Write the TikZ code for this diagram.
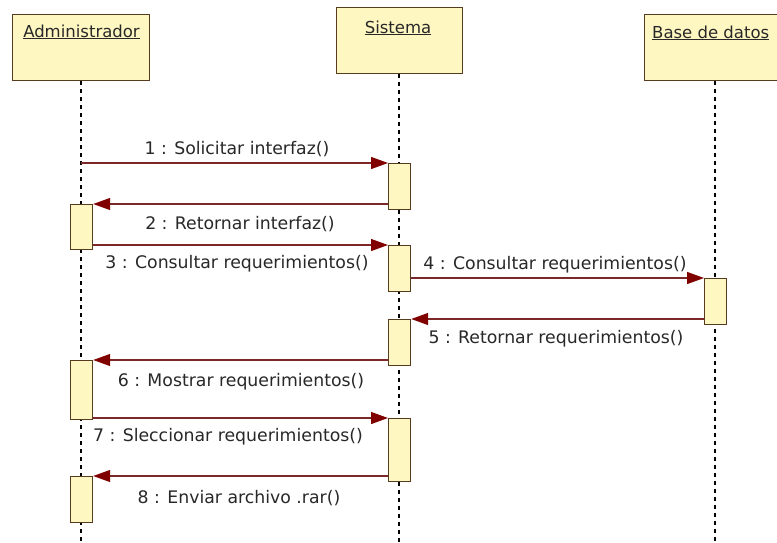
\documentclass[tikz,border=0pt]{standalone}
\usepackage{fontspec}
\setmainfont{DejaVu Sans}
\usetikzlibrary{arrows.meta}
\definecolor{boxfill}{RGB}{255,247,194}
\definecolor{boxline}{RGB}{88,58,30}
\definecolor{msgline}{RGB}{125,40,40}
\definecolor{msgtip}{RGB}{128,0,0}
\definecolor{txt}{RGB}{40,40,40}
\begin{document}
\begin{tikzpicture}[x=1pt,y=-1pt,
  header/.style={draw=boxline,fill=boxfill,line width=1.3pt,anchor=north west,inner sep=0pt},
  act/.style={draw=boxline,fill=boxfill,line width=1.2pt,anchor=north west,inner sep=0pt,minimum width=22pt},
  lifeline/.style={black,line width=1.3pt,dash pattern=on 4pt off 4pt},
  msg/.style={draw=msgline,line width=1.2pt,-{Triangle[length=17pt,width=12pt,fill=msgtip,color=msgtip]}},
  lbl/.style={anchor=base,text=txt,font=\fontsize{17.3}{20}\selectfont,inner sep=0pt},
  htxt/.style={anchor=base,text=txt,font=\fontsize{16.5}{19}\selectfont,inner sep=0pt}]
\useasboundingbox (0,0) rectangle (777,542);
\fill[white] (0,0) rectangle (777,542);
\clip (0,0) rectangle (777,542);
% header boxes
\node[header,minimum width=137pt,minimum height=66pt] (hA) at (12,14) {};
\node[header,minimum width=126pt,minimum height=66pt] (hS) at (336,7) {};
\node[header,minimum width=150pt,minimum height=66pt] (hD) at (644,14) {};
\node[htxt] (tA) at (81.5,37) {\underline{Administrador}};
\node[htxt] (tS) at (398,33) {\underline{Sistema}};
\node[htxt,anchor=base west] (tD) at (652,38) {\underline{Base de datos}};
% lifelines
\coordinate (eA) at (81,545);
\coordinate (eS) at (399,545);
\coordinate (eD) at (715,545);
\draw[lifeline] (hA.south -| eA) -- (eA);
\draw[lifeline] (hS.south -| eS) -- (eS);
\draw[lifeline] (hD.south -| eD) -- (eD);
% activations
\node[act,minimum height=46pt] (s1) at (388,163) {};
\node[act,minimum height=45pt] (a1) at (70,204) {};
\node[act,minimum height=46pt] (s2) at (388,245) {};
\node[act,minimum height=46pt] (d1) at (704,278) {};
\node[act,minimum height=46pt] (s3) at (388,319) {};
\node[act,minimum height=59pt] (a2) at (70,360) {};
\node[act,minimum height=63pt] (s4) at (388,418) {};
\node[act,minimum height=46pt] (a3) at (70,476) {};
% messages
\coordinate (m1) at (81,163);
\draw[msg] (m1) -- (s1.north west);
\draw[msg] (s1.west |- a1.north) -- (a1.north east);
\draw[msg] (a1.east |- s2.north) -- (s2.north west);
\draw[msg] (s2.east |- d1.north) -- (d1.north west);
\draw[msg] (d1.west |- s3.north) -- (s3.north east);
\draw[msg] (s3.west |- a2.north) -- (a2.north east);
\draw[msg] (a2.east |- s4.north) -- (s4.north west);
\draw[msg] (s4.west |- a3.north) -- (a3.north east);
% labels
\node[lbl] (l1) at (237,154) {1 : Solicitar interfaz()};
\node[lbl] (l2) at (240,229) {2 : Retornar interfaz()};
\node[lbl] (l3) at (237,268) {3 : Consultar requerimientos()};
\node[lbl] (l4) at (555,269) {4 : Consultar requerimientos()};
\node[lbl] (l5) at (556,343) {5 : Retornar requerimientos()};
\node[lbl] (l6) at (241,386) {6 : Mostrar requerimientos()};
\node[lbl] (l7) at (228,441) {7 : Sleccionar requerimientos()};
\node[lbl] (l8) at (239,503) {8 : Enviar archivo .rar()};
\end{tikzpicture}
\end{document}
